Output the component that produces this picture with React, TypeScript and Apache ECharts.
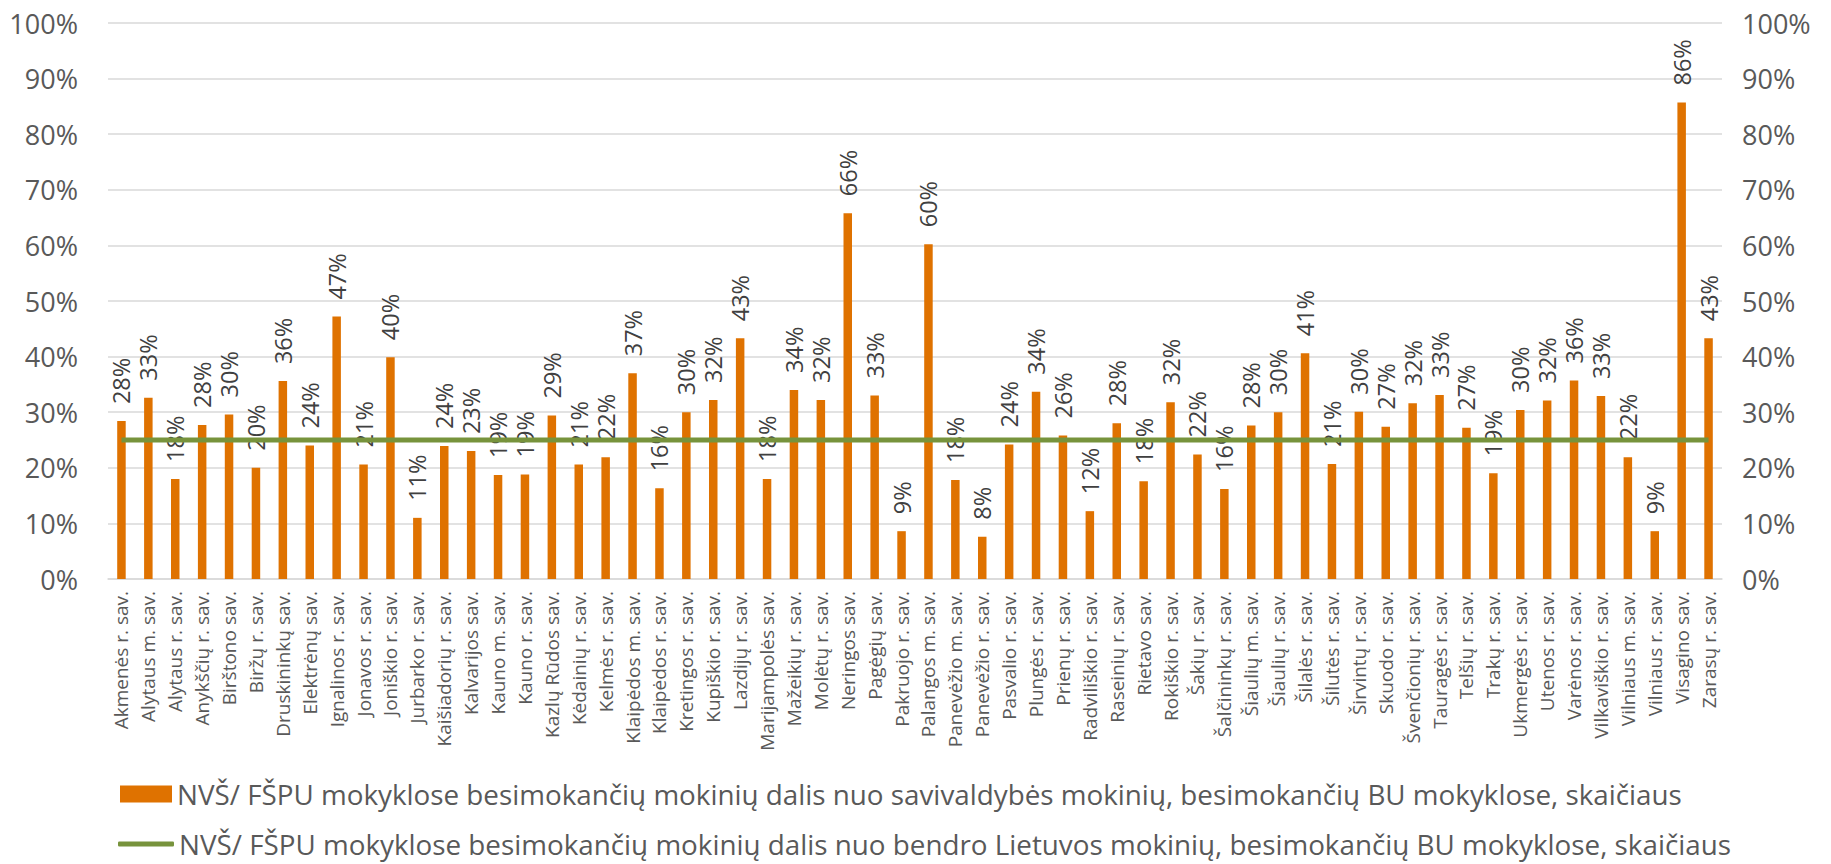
import React, { useEffect, useRef } from "react";
import * as echarts from "echarts";

const categories: string[] = [
  "Akmenės r. sav.", "Alytaus m. sav.", "Alytaus r. sav.", "Anykščių r. sav.", "Birštono sav.",
  "Biržų r. sav.", "Druskininkų sav.", "Elektrėnų sav.", "Ignalinos r. sav.", "Jonavos r. sav.",
  "Joniškio r. sav.", "Jurbarko r. sav.", "Kaišiadorių r. sav.", "Kalvarijos sav.", "Kauno m. sav.",
  "Kauno r. sav.", "Kazlų Rūdos sav.", "Kėdainių r. sav.", "Kelmės r. sav.", "Klaipėdos m. sav.",
  "Klaipėdos r. sav.", "Kretingos r. sav.", "Kupiškio r. sav.", "Lazdijų r. sav.", "Marijampolės sav.",
  "Mažeikių r. sav.", "Molėtų r. sav.", "Neringos sav.", "Pagėgių sav.", "Pakruojo r. sav.",
  "Palangos m. sav.", "Panevėžio m. sav.", "Panevėžio r. sav.", "Pasvalio r. sav.", "Plungės r. sav.",
  "Prienų r. sav.", "Radviliškio r. sav.", "Raseinių r. sav.", "Rietavo sav.", "Rokiškio r. sav.",
  "Šakių r. sav.", "Šalčininkų r. sav.", "Šiaulių m. sav.", "Šiaulių r. sav.", "Šilalės r. sav.",
  "Šilutės r. sav.", "Širvintų r. sav.", "Skuodo r. sav.", "Švenčionių r. sav.", "Tauragės r. sav.",
  "Telšių r. sav.", "Trakų r. sav.", "Ukmergės r. sav.", "Utenos r. sav.", "Varėnos r. sav.",
  "Vilkaviškio r. sav.", "Vilniaus m. sav.", "Vilniaus r. sav.", "Visagino sav.", "Zarasų r. sav.",
];

// share of municipality's pupils (%)
const municipalShare: number[] = [
  28.4, 32.6, 18.0, 27.7, 29.6,
  20.0, 35.6, 24.0, 47.2, 20.6,
  39.9, 11.0, 23.9, 23.0, 18.7,
  18.8, 29.4, 20.6, 21.9, 37.0,
  16.3, 30.0, 32.2, 43.3, 18.0,
  34.0, 32.2, 65.8, 33.0, 8.6,
  60.2, 17.8, 7.6, 24.2, 33.7,
  25.8, 12.2, 28.0, 17.6, 31.8,
  22.4, 16.2, 27.6, 30.0, 40.6,
  20.7, 30.1, 27.4, 31.6, 33.1,
  27.2, 19.0, 30.4, 32.1, 35.7,
  32.9, 21.9, 8.6, 85.7, 43.3,
];

// share of all Lithuanian pupils (%)
const nationalShare: number[] = categories.map(() => 25);

const yTicks = { min: 0, max: 100, interval: 10 };

const barName =
  "NVŠ/ FŠPU mokyklose besimokančių mokinių dalis nuo savivaldybės mokinių, besimokančių BU mokyklose, skaičiaus";
const lineName =
  "NVŠ/ FŠPU mokyklose besimokančių mokinių dalis nuo bendro Lietuvos mokinių, besimokančių BU mokyklose, skaičiaus";

export default function App() {
  const ref = useRef<HTMLDivElement>(null);
  useEffect(() => {
    document.body.style.margin = "0";
    if (!ref.current) return;
    const chart = echarts.init(ref.current, undefined, { renderer: "svg" });
    const font = "'Open Sans', 'Noto Sans', sans-serif";
    const axisLabel = {
      formatter: "{value}%",
      color: "#595959",
      fontSize: 27,
      fontFamily: font,
    };
    chart.setOption({
      animation: false,
      backgroundColor: "#ffffff",
      grid: { left: 108, right: 109, top: 23, bottom: 285, containLabel: false },
      legend: [
        {
          data: [barName],
          left: 115,
          top: 775,
          itemWidth: 52,
          itemHeight: 17,
          icon: "rect",
          textStyle: { color: "#595959", fontSize: 27.8, fontFamily: font },
        },
        {
          data: [lineName],
          left: 113,
          top: 825,
          itemWidth: 56,
          itemHeight: 5,
          icon: "roundRect",
          textStyle: { color: "#595959", fontSize: 27.8, fontFamily: font },
        },
      ],
      xAxis: {
        type: "category",
        data: categories,
        boundaryGap: true,
        axisLine: { show: true, lineStyle: { color: "#D9D9D9", width: 1.5 } },
        axisTick: { show: false },
        axisLabel: {
          interval: 0,
          rotate: 90,
          margin: 12,
          color: "#595959",
          fontSize: 19,
          fontFamily: font,
        },
      },
      yAxis: [
        {
          type: "value",
          ...yTicks,
          position: "left",
          axisLine: { show: false },
          axisTick: { show: false },
          splitLine: { show: true, lineStyle: { color: "#D9D9D9", width: 1.5 } },
          axisLabel: { ...axisLabel, margin: 30 },
        },
        {
          type: "value",
          ...yTicks,
          position: "right",
          axisLine: { show: false },
          axisTick: { show: false },
          splitLine: { show: false },
          axisLabel: { ...axisLabel, margin: 20 },
        },
      ],
      series: [
        {
          name: barName,
          type: "bar",
          data: municipalShare,
          barWidth: 8.5,
          itemStyle: { color: "#DF7200" },
          label: {
            show: true,
            position: "top",
            rotate: 90,
            align: "left",
            verticalAlign: "middle",
            distance: 17,
            color: "#404040",
            fontSize: 23.5,
            fontFamily: font,
            formatter: (p: any) => Math.round(p.value) + "%",
          },
          z: 2,
        },
        {
          name: lineName,
          type: "line",
          data: nationalShare,
          symbol: "none",
          lineStyle: { color: "#77933C", width: 5 },
          itemStyle: { color: "#77933C" },
          z: 3,
        },
      ],
    });
    return () => chart.dispose();
  }, []);
  return <div ref={ref} style={{ width: 1831, height: 864 }} />;
}
